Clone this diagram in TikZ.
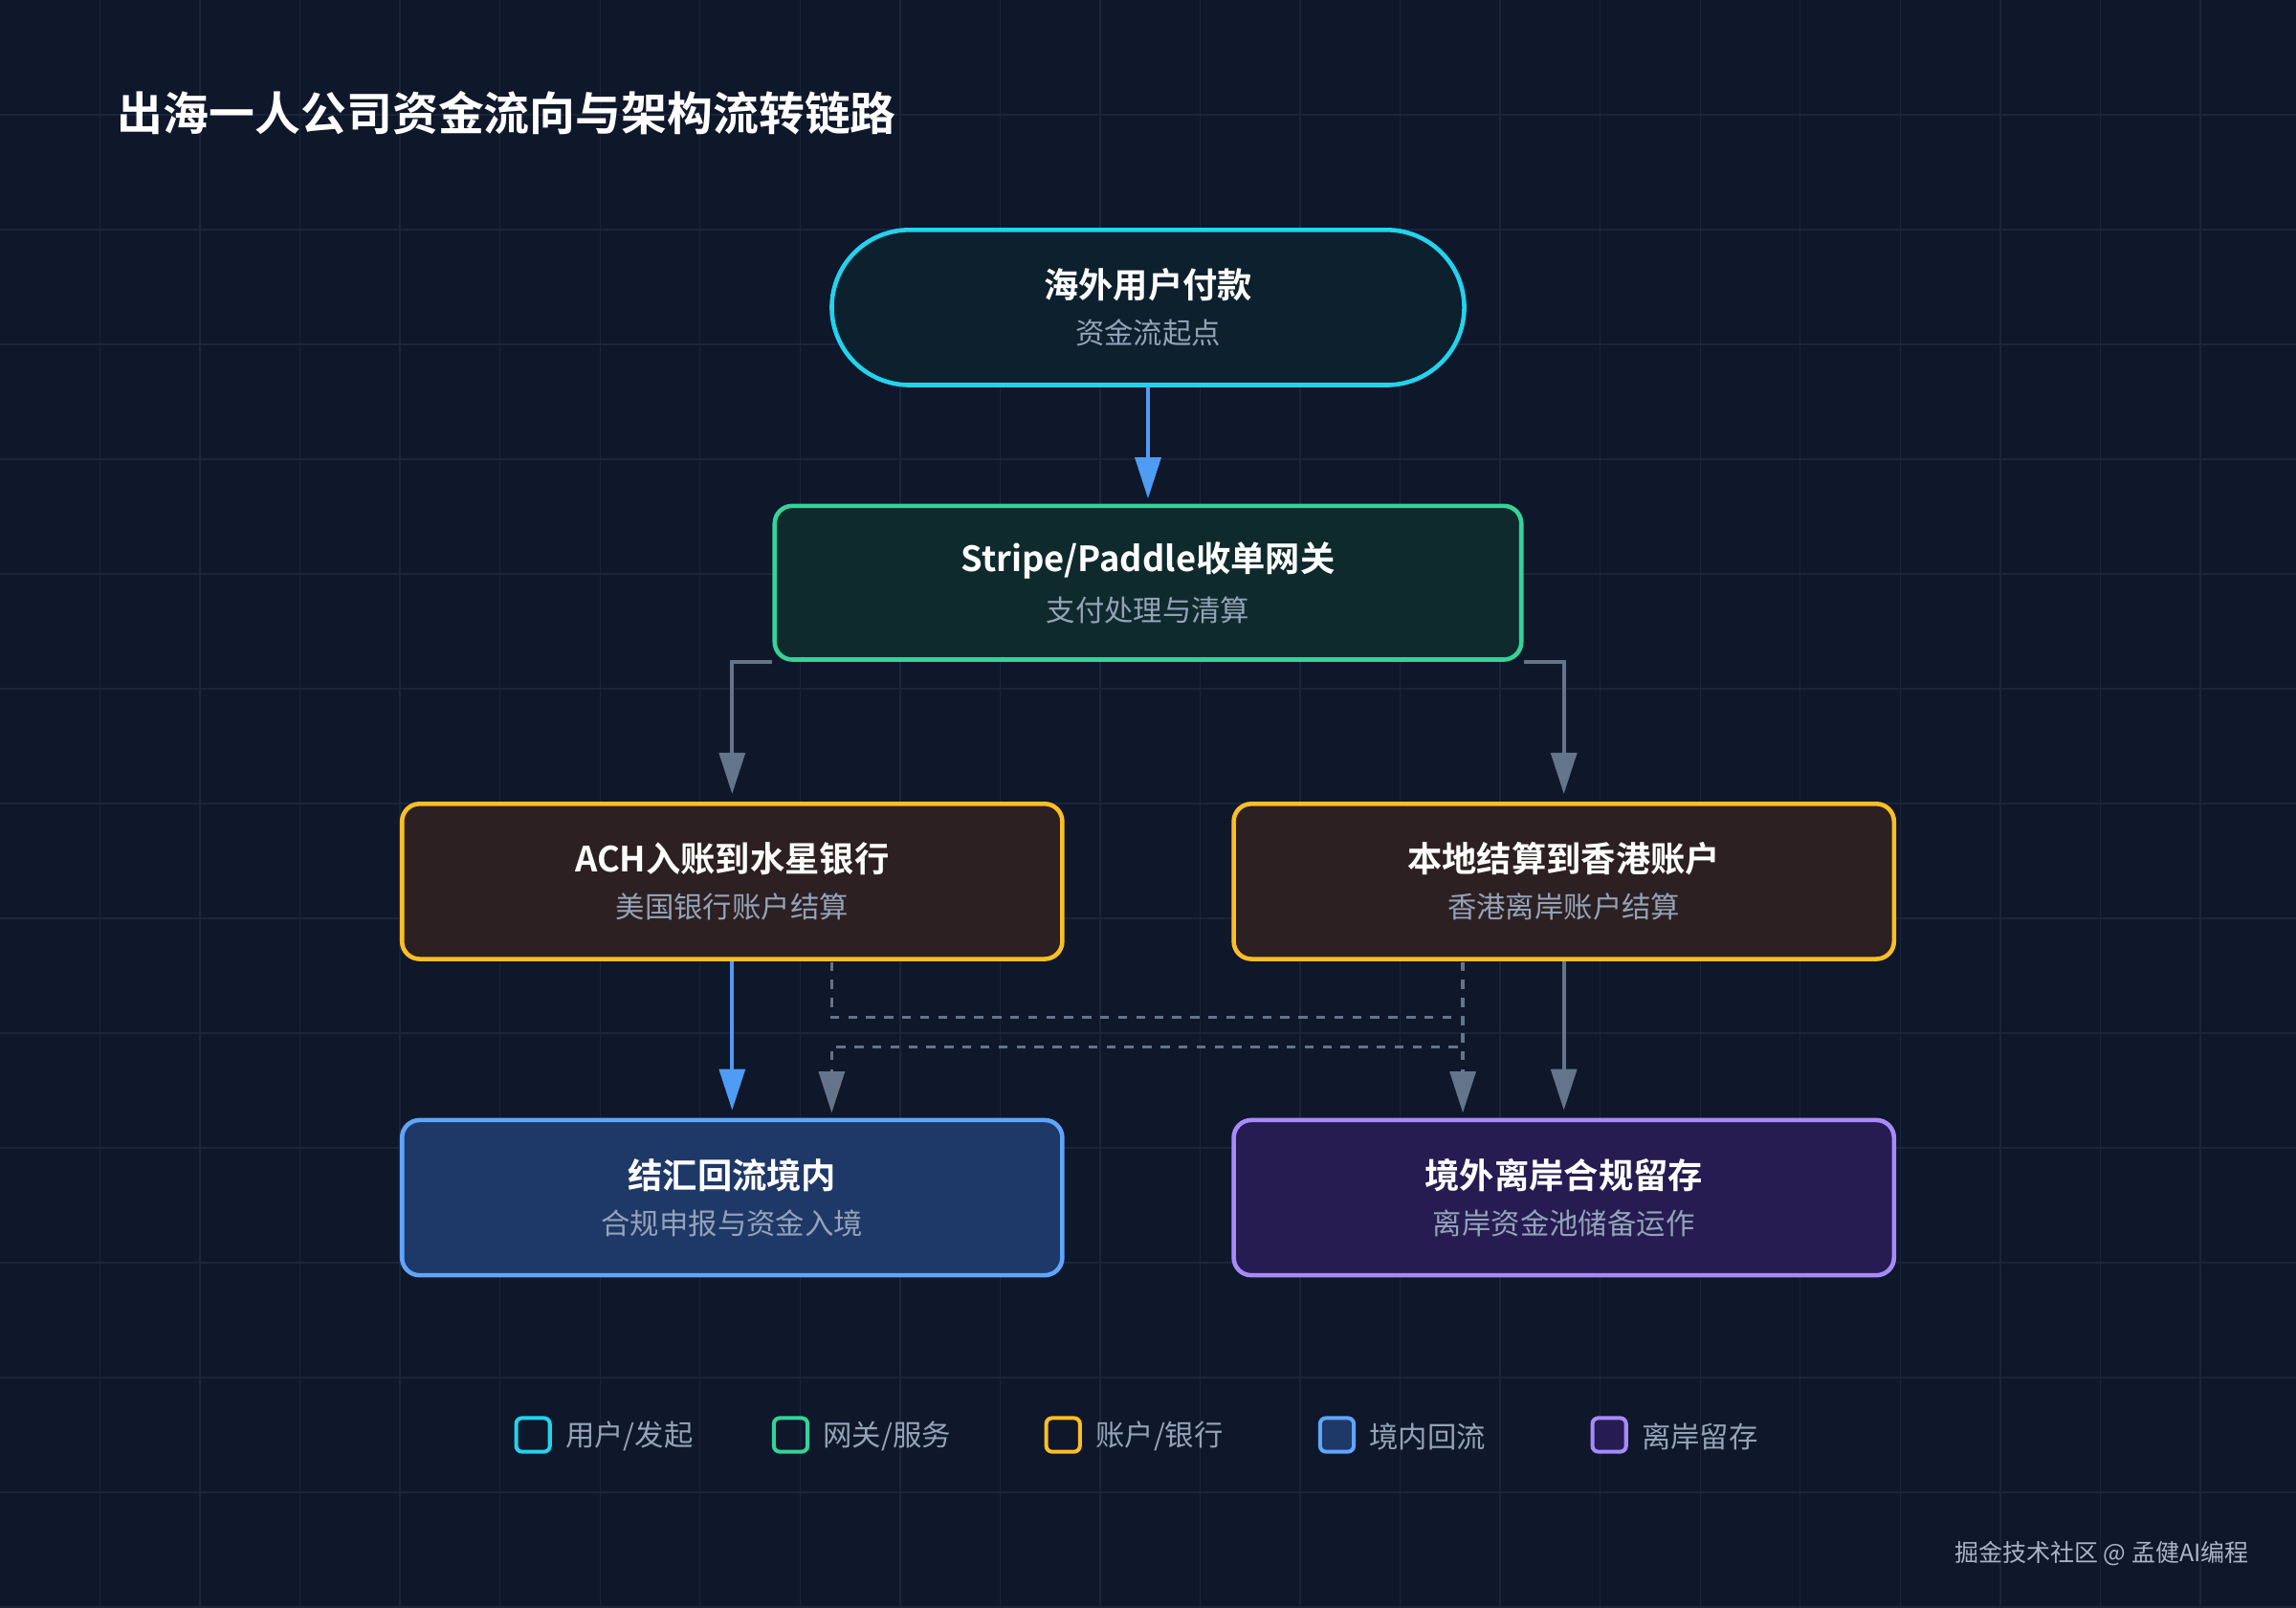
\documentclass[tikz,border=0pt]{standalone}
\usepackage{fontspec}
\setmainfont{Noto Sans CJK SC}[BoldFont={Noto Sans CJK SC Bold}]
\usetikzlibrary{arrows.meta}
\definecolor{bg}{HTML}{0F172A}
\definecolor{gridc}{HTML}{1B2537}
\definecolor{subc}{HTML}{94A3B8}
\definecolor{grayline}{HTML}{64748B}
\definecolor{blueline}{HTML}{4F9CF5}
\newcommand{\boxtxt}[2]{\textcolor{white}{\bfseries\fontsize{13.5}{16}\selectfont #1}\\[6pt]{\color{subc}\fontsize{11.3}{13}\selectfont #2}}
\begin{document}
\begin{tikzpicture}[x=0.02cm,y=-0.02cm,
  box/.style={draw,line width=1.7pt,rounded corners=0.24cm,minimum width=9.02cm,minimum height=2.12cm,align=center,inner sep=0pt},
  garr/.style={line width=1.4pt,draw=grayline,-{Triangle[width=10pt,length=16pt,fill=grayline]}},
  barr/.style={line width=1.4pt,draw=blueline,-{Triangle[width=10pt,length=16pt,fill=blueline]}},
  dsh/.style={line width=1.2pt,draw=grayline,dash pattern=on 3.5pt off 3.5pt,-{Triangle[width=10pt,length=16pt,fill=grayline,sep=0pt]}},
  leg/.style={draw,line width=1.5pt,rounded corners=0.08cm,minimum size=0.46cm,inner sep=0pt},
  legt/.style={anchor=west,font=\fontsize{11.3}{13}\selectfont,text=subc}]
\fill[bg] (0,0) rectangle (1568,1098);
\useasboundingbox (0,0) rectangle (1568,1098);
\foreach \i in {1,...,22} \draw[gridc,line width=0.5pt] (\i*68.3,0) -- (\i*68.3,1098);
\foreach \j in {1,...,14} \draw[gridc,line width=0.5pt] (0,\j*78.4) -- (1568,\j*78.4);

\node[anchor=west,inner sep=0pt,text=white,font=\bfseries\fontsize{17.8}{20}\selectfont] (title) at (80,77) {出海一人公司资金流向与架构流转链路};

\node[box,draw={rgb,255:red,34;green,211;blue,238},fill={rgb,255:red,13;green,32;blue,46},rounded corners=1.06cm,minimum width=8.64cm] (user) at (784,210)
  {\boxtxt{海外用户付款}{资金流起点}};
\node[box,draw={rgb,255:red,52;green,211;blue,153},fill={rgb,255:red,14;green,42;blue,45},minimum width=10.2cm,minimum height=2.1cm] (gw) at (784,398)
  {\boxtxt{Stripe/Paddle收单网关}{支付处理与清算}};
\node[box,draw={rgb,255:red,251;green,191;blue,36},fill={rgb,255:red,45;green,32;blue,34}] (ach) at (500,602)
  {\boxtxt{ACH入账到水星银行}{美国银行账户结算}};
\node[box,draw={rgb,255:red,251;green,191;blue,36},fill={rgb,255:red,45;green,32;blue,34}] (hk) at (1068,602)
  {\boxtxt{本地结算到香港账户}{香港离岸账户结算}};
\node[box,draw={rgb,255:red,96;green,165;blue,250},fill={rgb,255:red,30;green,56;blue,104}] (home) at (500,818)
  {\boxtxt{结汇回流境内}{合规申报与资金入境}};
\node[box,draw={rgb,255:red,167;green,139;blue,250},fill={rgb,255:red,38;green,28;blue,82}] (off) at (1068,818)
  {\boxtxt{境外离岸合规留存}{离岸资金池储备运作}};

\draw[barr,shorten >=2pt] (user) -- (gw);
\draw[garr,shorten >=3pt] (gw.south west) -| (ach.north);
\draw[garr,shorten >=3pt] (gw.south east) -| (hk.north);
\draw[barr,shorten >=3pt] (ach) -- (home);
\draw[garr,shorten >=3pt] (hk) -- (off);

\coordinate (a1) at (568,657);
\coordinate (a2) at (568,760);
\coordinate (h1) at (999,657);
\coordinate (h2) at (999,760);
\draw[dsh] (a1) -- (568,695) -- (999,695) -- (h2);
\draw[dsh] (h1) -- (999,715) -- (568,715) -- (a2);

\node[leg,draw={rgb,255:red,34;green,211;blue,238}] (l1) at (364,980) {};
\node[legt] (t1) at (380,981) {用户/发起};
\node[leg,draw={rgb,255:red,52;green,211;blue,153}] (l2) at (540,980) {};
\node[legt] (t2) at (556,981) {网关/服务};
\node[leg,draw={rgb,255:red,251;green,191;blue,36}] (l3) at (726,980) {};
\node[legt] (t3) at (742,981) {账户/银行};
\node[leg,draw={rgb,255:red,96;green,165;blue,250},fill={rgb,255:red,30;green,56;blue,104}] (l4) at (913,980) {};
\node[legt] (t4) at (929,981) {境内回流};
\node[leg,draw={rgb,255:red,167;green,139;blue,250},fill={rgb,255:red,38;green,28;blue,82}] (l5) at (1099,980) {};
\node[legt] (t5) at (1115,981) {离岸留存};

\node[anchor=east,text=subc!80!white,font=\fontsize{9.3}{11}\selectfont] (foot) at (1542,1061) {掘金技术社区 @ 孟健AI编程};
\end{tikzpicture}
\end{document}
